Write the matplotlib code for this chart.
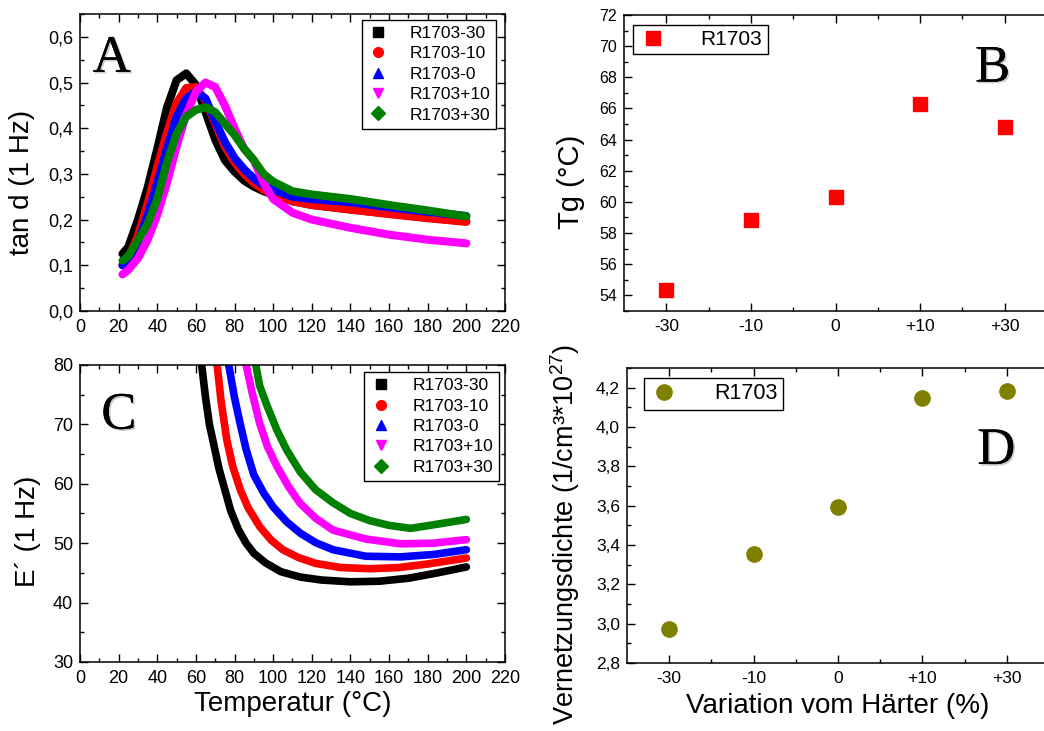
import matplotlib
matplotlib.use('Agg')
import matplotlib.pyplot as plt
import matplotlib.patheffects as pe
from matplotlib.lines import Line2D
from matplotlib.ticker import MultipleLocator, FuncFormatter

plt.rcParams['font.family'] = 'Liberation Sans'
plt.rcParams['mathtext.fontset'] = 'custom'
plt.rcParams['mathtext.rm'] = 'Liberation Sans'
plt.rcParams['mathtext.it'] = 'Liberation Sans:italic'

# ---------------- data ----------------
names = ['R1703-30', 'R1703-10', 'R1703-0', 'R1703+10', 'R1703+30']
colors = ['#000000', '#ff0000', '#0000ff', '#ff00ff', '#008000']
markers = ['s', 'o', '^', 'v', 'D']

# panel A: tan d vs temperature
T_A = [22, 25, 30, 35, 40, 45, 50, 55, 60, 65, 70, 75, 80, 85, 90, 95, 100, 110, 120, 140, 160, 180, 200]
tan_m30 = [0.125, 0.14, 0.20, 0.27, 0.355, 0.445, 0.505, 0.52, 0.495, 0.435, 0.375, 0.33, 0.305,
           0.285, 0.272, 0.262, 0.255, 0.24, 0.232, 0.222, 0.213, 0.204, 0.196]
tan_m10 = [0.10, 0.115, 0.165, 0.235, 0.315, 0.39, 0.455, 0.488, 0.49, 0.46, 0.41, 0.36, 0.325,
           0.30, 0.28, 0.265, 0.255, 0.24, 0.232, 0.222, 0.212, 0.203, 0.195]
tan_0 = [0.10, 0.11, 0.15, 0.21, 0.28, 0.355, 0.425, 0.465, 0.48, 0.465, 0.415, 0.37, 0.335,
         0.31, 0.29, 0.275, 0.265, 0.25, 0.245, 0.238, 0.227, 0.217, 0.208]
tan_p10 = [0.08, 0.09, 0.115, 0.155, 0.21, 0.28, 0.36, 0.43, 0.48, 0.50, 0.49, 0.45, 0.40,
           0.355, 0.33, 0.28, 0.245, 0.215, 0.20, 0.182, 0.167, 0.156, 0.148]
tan_p30 = [0.11, 0.12, 0.155, 0.19, 0.245, 0.325, 0.388, 0.425, 0.44, 0.446, 0.435, 0.41, 0.385,
           0.355, 0.33, 0.30, 0.283, 0.262, 0.255, 0.245, 0.232, 0.22, 0.207]

# panel C: E' vs temperature
T_C_m30 = [63, 65, 67, 69, 72, 75, 78, 82, 86, 90, 96, 104, 114, 125, 140, 155, 170, 185, 200]
E_m30 = [80, 74.5, 70, 67, 62.5, 59, 55.5, 52.3, 50, 48.3, 46.7, 45.2, 44.3, 43.8, 43.5, 43.6, 44.1, 45.0, 46.0]
T_C_m10 = [71, 73, 76, 79, 83, 87, 93, 99, 105, 113, 122, 135, 150, 165, 180, 200]
E_m10 = [80, 74, 67.4, 63, 59, 56, 52.8, 50.5, 48.9, 47.6, 46.6, 45.9, 45.7, 45.9, 46.5, 47.5]
T_C_0 = [77, 80, 83, 86, 90, 95, 100, 107, 114, 122, 131, 148, 166, 183, 200]
E_0 = [80, 74.5, 70, 65.8, 61.5, 58.5, 56.1, 53.6, 51.7, 50.1, 48.9, 47.8, 47.7, 48.1, 48.9]
T_C_p10 = [86, 89, 93, 97, 102, 108, 114, 122, 131, 148, 166, 183, 200]
E_p10 = [80, 75.5, 70.2, 66.3, 62.9, 59.5, 56.7, 54.2, 52.2, 50.7, 49.9, 50.0, 50.6]
T_C_p30 = [91, 93, 97, 102, 107, 114, 122, 131, 140, 150, 160, 171, 183, 200]
E_p30 = [80, 76.5, 73, 69, 65.7, 62, 59, 56.8, 55, 53.8, 53.0, 52.5, 53.1, 54.0]

# panels B and D: values per hardener variation
variation = ['-30', '-10', '0', '+10', '+30']
Tg = [54.35, 58.85, 60.3, 66.3, 64.8]
density = [2.975, 3.355, 3.595, 4.145, 4.185]

comma = FuncFormatter(lambda v, pos: ('%.1f' % v).replace('.', ','))


def style_axes(ax, xsize, ysize, right=True):
    ax.tick_params(which='both', direction='in', top=True, right=right, width=1)
    ax.tick_params(which='major', length=6)
    ax.tick_params(which='minor', length=3)
    ax.tick_params(axis='x', labelsize=xsize, pad=6)
    ax.tick_params(axis='y', labelsize=ysize, pad=5)
    for s in ax.spines.values():
        s.set_linewidth(1.1)


def letter(ax, x, y, txt):
    ax.text(x, y, txt, transform=ax.transAxes, family='Liberation Serif', fontsize=38,
            ha='left', va='top',
            path_effects=[pe.withSimplePatchShadow(offset=(1.2, -1.2), alpha=0.2), pe.Normal()])


def series_legend(ax, anchor):
    handles = [Line2D([], [], ls='none', marker=m, color=c, ms=7) for m, c in zip(markers, colors)]
    leg = ax.legend(handles, names, loc='upper right', bbox_to_anchor=anchor, borderaxespad=0,
                    fontsize=12.5, fancybox=False, edgecolor='black', framealpha=1,
                    labelspacing=0.3, handletextpad=1.2, handlelength=1.2, borderpad=0.35)
    leg.get_frame().set_linewidth(1.0)


fig = plt.figure(figsize=(10.44, 7.31), dpi=100)

# ---------------- A ----------------
axA = fig.add_axes([0.0766, 0.5746, 0.4071, 0.4063])
for y, c in zip([tan_m30, tan_m10, tan_0, tan_p10, tan_p30], colors):
    axA.plot(T_A, y, color=c, lw=5.8, solid_capstyle='round', solid_joinstyle='round')
axA.set_xlim(0, 220)
axA.set_ylim(0, 0.65)
axA.xaxis.set_major_locator(MultipleLocator(20))
axA.xaxis.set_minor_locator(MultipleLocator(10))
axA.yaxis.set_major_locator(MultipleLocator(0.1))
axA.yaxis.set_minor_locator(MultipleLocator(0.05))
axA.yaxis.set_major_formatter(comma)
style_axes(axA, 13, 13)
axA.set_ylabel('tan d (1 Hz)', fontsize=20)
axA.yaxis.set_label_coords(-0.105, 0.434)
series_legend(axA, (0.98, 0.98))
letter(axA, 0.03, 0.93, 'A')

# ---------------- C ----------------
axC = fig.add_axes([0.0766, 0.0944, 0.4071, 0.4063])
for t, e, c in zip([T_C_m30, T_C_m10, T_C_0, T_C_p10, T_C_p30],
                   [E_m30, E_m10, E_0, E_p10, E_p30], colors):
    axC.plot(t, e, color=c, lw=5.5, solid_capstyle='round', solid_joinstyle='round')
axC.set_xlim(0, 220)
axC.set_ylim(30, 80)
axC.xaxis.set_major_locator(MultipleLocator(20))
axC.xaxis.set_minor_locator(MultipleLocator(10))
axC.yaxis.set_major_locator(MultipleLocator(10))
axC.yaxis.set_minor_locator(MultipleLocator(5))
style_axes(axC, 13, 13)
axC.set_ylabel('E\u00b4 (1 Hz)', fontsize=20)
axC.yaxis.set_label_coords(-0.092, 0.44)
axC.set_xlabel('Temperatur (\u00b0C)', fontsize=20, labelpad=3)
series_legend(axC, (0.986, 0.976))
letter(axC, 0.05, 0.91, 'C')

# ---------------- B ----------------
axB = fig.add_axes([0.5977, 0.5746, 0.4052, 0.4049])
xs = list(range(len(variation)))
axB.plot(xs, Tg, ls='none', marker='s', ms=10, color='#ff0000', label='R1703')
axB.set_xlim(-0.5, 4.5)
axB.set_ylim(53, 72)
axB.set_xticks(xs)
axB.set_xticklabels(variation)
axB.set_xticks([0.5, 1.5, 2.5, 3.5], minor=True)
axB.yaxis.set_major_locator(MultipleLocator(2))
axB.yaxis.set_minor_locator(MultipleLocator(1))
style_axes(axB, 12.5, 11.5, right=False)
axB.set_ylabel('Tg (\u00b0C)', fontsize=21)
axB.yaxis.set_label_coords(-0.092, 0.436)
legB = axB.legend(loc='upper left', bbox_to_anchor=(0.021, 0.966), borderaxespad=0, fontsize=15,
                  fancybox=False, edgecolor='black', framealpha=1, handletextpad=1.6,
                  handlelength=1.4, borderpad=0.25)
legB.get_frame().set_linewidth(1.0)
letter(axB, 0.83, 0.90, 'B')

# ---------------- D ----------------
axD = fig.add_axes([0.6006, 0.0930, 0.4042, 0.4036])
axD.plot(xs, density, ls='none', marker='o', ms=11, color='#808000', label='R1703')
axD.set_xlim(-0.5, 4.5)
axD.set_ylim(2.8, 4.3)
axD.set_xticks(xs)
axD.set_xticklabels(variation)
axD.set_xticks([0.5, 1.5, 2.5, 3.5], minor=True)
axD.yaxis.set_major_locator(MultipleLocator(0.2))
axD.yaxis.set_minor_locator(MultipleLocator(0.1))
axD.yaxis.set_major_formatter(comma)
style_axes(axD, 12.5, 12.5, right=False)
axD.set_ylabel('Vernetzungsdichte (1/cm\u00b3*10$^{27}$)', fontsize=19.5)
axD.yaxis.set_label_coords(-0.107, 0.435)
axD.set_xlabel('Variation vom H\u00e4rter (%)', fontsize=20, labelpad=5)
legD = axD.legend(loc='upper left', bbox_to_anchor=(0.04, 0.966), borderaxespad=0, fontsize=15.5,
                  fancybox=False, edgecolor='black', framealpha=1, handletextpad=1.6,
                  handlelength=1.4, borderpad=0.25)
legD.get_frame().set_linewidth(1.0)
letter(axD, 0.83, 0.80, 'D')

fig.savefig('out.png', dpi=100)
